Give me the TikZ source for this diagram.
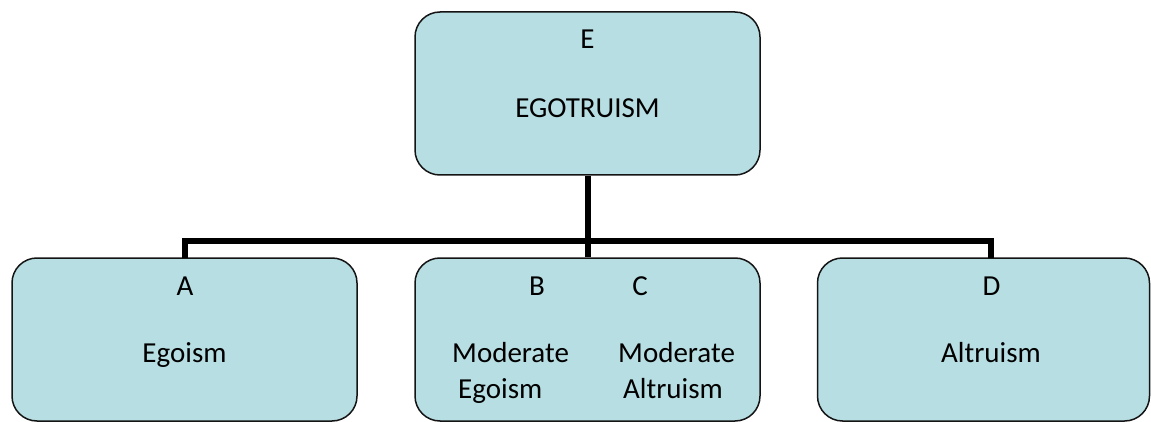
\documentclass[tikz,border=0pt]{standalone}
\usepackage{fontspec}
\setmainfont{Carlito}
\definecolor{boxfill}{RGB}{183,222,227}
\definecolor{boxline}{RGB}{20,20,20}
\begin{document}
\begin{tikzpicture}[x=1pt,y=-1pt,
  box/.style={draw=boxline,fill=boxfill,line width=1.5pt,rounded corners=25pt,
    rectangle,inner sep=0pt,minimum width=345pt,minimum height=163pt},
  conn/.style={draw=black,line width=6pt,line join=miter},
  lbl/.style={font=\fontsize{29}{34}\selectfont,inner sep=0pt,anchor=base}]
\useasboundingbox (0,0) rectangle (1151,422);
% boxes
\node[box] (E) at (587.5,93.5) {};
\node[box] (A) at (184.5,339.5) {};
\node[box] (BC) at (587.5,339.5) {};
\node[box,minimum width=332pt] (D) at (983.5,339.5) {};
% junction coordinates
\coordinate (j) at (587.5,241);
\coordinate (jd) at (991,258);
\coordinate (ja) at (184.5,258);
% connectors
\draw[conn] (E.south) -- (BC.north);
\draw[conn] (ja) |- (j) -| (jd);
% texts
\node[lbl] (tE) at (587.5,49) {E};
\node[lbl] (tEg) at (587.5,118) {EGOTRUISM};
\node[lbl] (tA) at (185,295) {A};
\node[lbl] (tAe) at (184.5,362.5) {Egoism};
\node[lbl] (tB) at (537,295) {B};
\node[lbl] (tC) at (640,295) {C};
\node[lbl,anchor=base west] (tB1) at (452,362.5) {Moderate};
\node[lbl,anchor=base west] (tB2) at (458,398) {Egoism};
\node[lbl,anchor=base west] (tC1) at (618,362.5) {Moderate};
\node[lbl,anchor=base west] (tC2) at (623,398) {Altruism};
\node[lbl] (tD) at (991.5,295) {D};
\node[lbl] (tDa) at (991,362.5) {Altruism};
\end{tikzpicture}
\end{document}
